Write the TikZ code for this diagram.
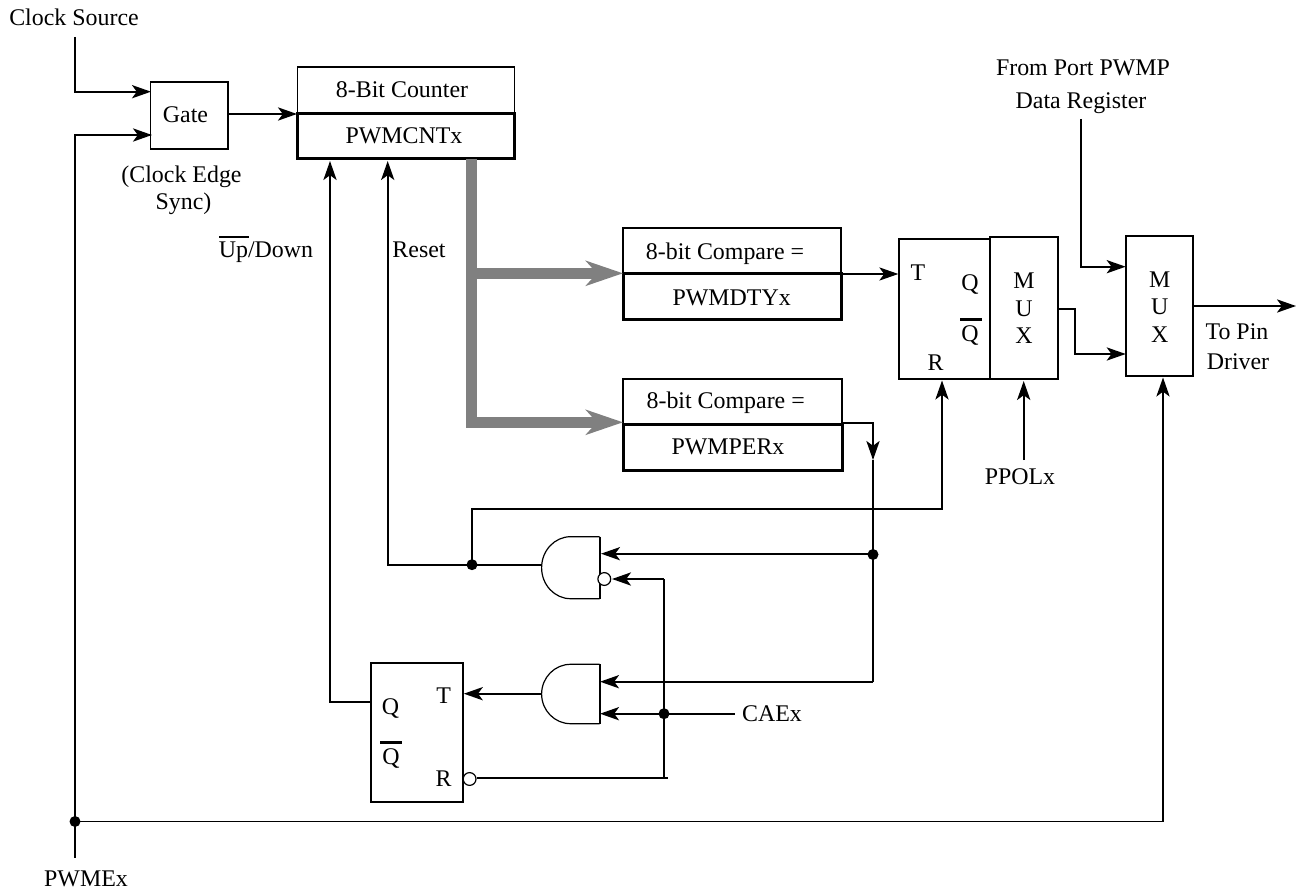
\documentclass[tikz,border=0pt]{standalone}
\usepackage{fontspec}
\setmainfont{Liberation Serif}
\usetikzlibrary{arrows.meta}
\definecolor{busgray}{HTML}{808080}
\tikzset{
  x=0.5pt,y=-0.5pt,
  every node/.style={font=\fontsize{11.95}{14}\selectfont},
  sz/.style 2 args={minimum width=#1*0.5pt,minimum height=#2*0.5pt,inner sep=0pt,outer sep=0pt},
  lab/.style={inner sep=0pt,text height=7.9pt,text depth=0pt},
  thinbox/.style={draw,line width=0.95pt},
  thickbox/.style={draw,line width=1.5pt},
  wire/.style={line width=0.95pt},
  hair/.style={line width=0.55pt},
  arr/.style={wire,-{Stealth[length=9.5pt,width=6.6pt,inset=2.4pt]}},
  harr/.style={hair,-{Stealth[length=9.5pt,width=6.6pt,inset=2.4pt]}},
  bus/.style={line width=5.5pt,busgray},
  busarr/.style={bus,-{Stealth[length=18.5pt,width=12.4pt,inset=5.5pt]}},
  dot/.style={circle,fill=black,minimum size=5.5pt,inner sep=0pt,outer sep=0pt},
  bubble/.style={circle,draw,fill=white,line width=0.6pt,minimum size=6.4pt,inner sep=0pt},
  gatebody/.style={line width=0.6pt},
  barline/.style={line width=1.4pt},
  upbar/.style={line width=0.85pt}
}
\begin{document}
\begin{tikzpicture}
\useasboundingbox (0,0) rectangle (1296,888);
% boxes
\node[thinbox,sz={77.8}{67.3}] (gate) at (189.4,115.3) {};
\node[lab] (gatet) at (185.5,115) {Gate};
\node[thinbox,sz={217}{46.5}] (cnttop) at (406,90.2) {};
\node[thickbox,sz={217}{45.5}] (cnt) at (406,136.2) {};
\node[lab] (cntt) at (402,90) {8-Bit Counter};
\node[lab] (cntb) at (404,136) {PWMCNTx};
\node[thinbox,sz={217.7}{45.3}] (dtytop) at (732.2,250.4) {};
\node[thickbox,sz={217.7}{46.7}] (dty) at (732.2,296.4) {};
\node[lab] (dtyt) at (725,251.7) {8-bit Compare =};
\node[lab] (dtyb) at (731.7,297.3) {PWMDTYx};
\node[thinbox,sz={218.7}{45.3}] (pertop) at (732.7,401.7) {};
\node[thickbox,sz={218.7}{45.7}] (per) at (732.7,447.2) {};
\node[lab] (pert) at (725.7,401) {8-bit Compare =};
\node[lab] (perb) at (728,446.7) {PWMPERx};
\node[thinbox,sz={91}{140.3}] (ffa) at (944.5,308.8) {};
\node[thinbox,sz={68.3}{142}] (muxa) at (1024.2,308) {};
\node[thinbox,sz={67}{140}] (muxb) at (1159.5,305.7) {};
\node[thinbox,sz={92}{139}] (ffb) at (417,732.2) {};
% gates
\node[sz={58.2}{62}] (nanda) at (570.6,567.7) {};
\node[sz={58.2}{59.4}] (andb) at (570.6,694) {};
\draw[gatebody] (nanda.north east) -- (nanda.north) arc[start angle=90,end angle=270,x radius=14.5pt,y radius=15.5pt] -- (nanda.south east);
\draw[wire] (nanda.north east) -- (nanda.south east);
\draw[gatebody] (andb.north east) -- (andb.north) arc[start angle=90,end angle=270,x radius=14.5pt,y radius=14.85pt] -- (andb.south east);
\draw[wire] (andb.north east) -- (andb.south east);
% labels
\node[lab] (clk) at (74,18) {Clock Source};
\node[lab] (sync1) at (181.5,175) {(Clock Edge};
\node[lab] (sync2) at (183.5,202) {Sync)};
\node[lab] (updown) at (266,250) {Up/Down};
\node[lab] (reset) at (419,250) {Reset};
\node[lab] (ffat) at (918,272.7) {T};
\node[lab] (ffaq) at (970,283) {Q};
\node[lab] (ffaqb) at (970,334) {Q};
\node[lab] (ffar) at (935.7,363) {R};
\node[lab] (ma1) at (1024,281) {M};
\node[lab] (ma2) at (1024,309) {U};
\node[lab] (ma3) at (1024,336) {X};
\node[lab] (mb1) at (1159.7,279.3) {M};
\node[lab] (mb2) at (1159.7,306.7) {U};
\node[lab] (mb3) at (1159.7,334.3) {X};
\node[lab] (topin) at (1237,332) {To Pin};
\node[lab] (driver) at (1238,362) {Driver};
\node[lab] (ppol) at (1020,476.7) {PPOLx};
\node[lab] (port1) at (1083,68) {From Port PWMP};
\node[lab] (port2) at (1081,101) {Data Register};
\node[lab] (caex) at (772,714) {CAEx};
\node[lab] (ffbq) at (390.4,706.7) {Q};
\node[lab] (ffbqb) at (391,756.7) {Q};
\node[lab] (ffbt) at (443.6,696) {T};
\node[lab] (ffbr) at (443.6,778.7) {R};
\node[lab] (pwme) at (86,879) {PWMEx};
% overbars
\draw[upbar] (219,236.7) -- (249,236.7);
\draw[barline] (960,319.5) -- (982,319.5);
\draw[barline] (380,742.3) -- (402,742.3);
% junctions and bubbles
\node[dot] (jpwme) at (75,821.5) {};
\node[dot] (jreset) at (472,564.7) {};
\node[dot] (jper) at (873,554.5) {};
\node[dot] (jcae) at (664,713.7) {};
\node[bubble] (bna) at (604.3,579) {};
\node[bubble] (bff) at (469.6,779) {};
% named ends
\coordinate (clkfrom) at (75,37);
\coordinate (gatein1) at (151,91.7);
\coordinate (gatein2) at (152,135);
\coordinate (gateout) at (228.3,114);
\coordinate (cntin) at (297,114);
\coordinate (uptip) at (330,161);
\coordinate (resettip) at (387.7,161);
\coordinate (busstart) at (471.5,159);
\coordinate (busbranch) at (471.5,273.3);
\coordinate (busa) at (623,273.3);
\coordinate (busb) at (623,422.3);
\coordinate (dtyout) at (841,274);
\coordinate (ffain) at (898.3,274);
\coordinate (perout) at (842,422.7);
\coordinate (perdown) at (873,460);
\coordinate (rtip) at (942,380.5);
\coordinate (rbend) at (942,509);
\coordinate (pfrom) at (1023.7,460);
\coordinate (ptip) at (1023.7,381);
\coordinate (maout) at (1058.3,309.3);
\coordinate (mabend) at (1075,309.3);
\coordinate (mbin2) at (1125.7,354);
\coordinate (portfrom) at (1081,119);
\coordinate (mbin1) at (1125.7,266.7);
\coordinate (mbout) at (1193,306);
\coordinate (pinend) at (1296,306);
\coordinate (mbtip) at (1163,377.5);
\coordinate (pwmeend) at (75,857.7);
\coordinate (na1) at (601,553.7);
\coordinate (nb) at (612,579);
\coordinate (nout) at (541.5,564.7);
\coordinate (ab1) at (600,681.7);
\coordinate (ab2) at (600,713.7);
\coordinate (abo) at (541.5,693.7);
\coordinate (fft) at (463.8,693.7);
\coordinate (caefrom) at (734.8,713.7);
\coordinate (ffq) at (371,701.7);
\coordinate (rend) at (668,777.7);
\coordinate (rcorner) at (664,777.7);
\coordinate (perbend) at (873,681.7);
% wires
\draw[arr] (clkfrom) |- (gatein1);
\draw[arr] (jpwme.center) |- (gatein2);
\draw[wire] (jpwme.center) -- (pwmeend);
\draw[arr] (gateout) -- (cntin);
\draw[arr] (ffq) -| (uptip);
\draw[arr] (jreset.center) -| (resettip);
\draw[wire] (jreset.center) -- (nout);
\draw[busarr] (busstart) |- (busb);
\draw[busarr] (busbranch) -- (busa);
\draw[harr] (dtyout) -- (ffain);
\draw[wire] (perdown) -- (jper.center);
\draw[arr] (perout) -| (perdown);
\draw[wire] (jper.center) -- (perbend);
\draw[arr] (jreset.center) |- (rbend) -- (rtip);
\draw[arr] (pfrom) -- (ptip);
\draw[arr] (maout) -- (mabend) |- (mbin2);
\draw[arr] (portfrom) |- (mbin1);
\draw[arr] (mbout) -- (pinend);
\draw[arr] (jpwme.center) -| (mbtip);
\draw[arr] (jper.center |- na1) -- (na1);
\draw[arr] (perbend) -- (ab1);
\draw[arr] (caefrom) -- (ab2);
\draw[arr] (abo) -- (fft);
\draw[arr] (rcorner |- nb) -- (nb);
\draw[wire] (rcorner |- nb) -- (rcorner);
\draw[wire] (bff.east |- rend) -- (rend);
\end{tikzpicture}
\end{document}
